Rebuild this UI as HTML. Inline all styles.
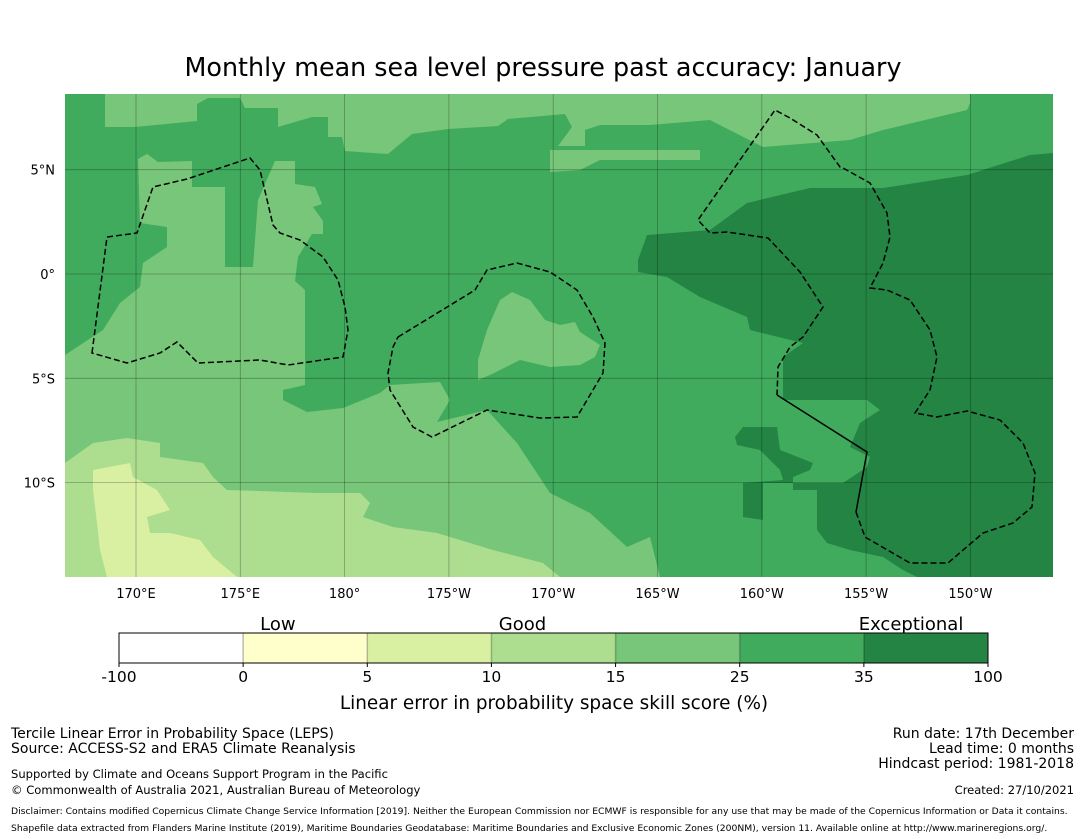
<!DOCTYPE html>
<html><head><meta charset="utf-8">
<style>
body{margin:0;background:#fff;}
svg{display:block;font-family:"DejaVu Sans","Liberation Sans",sans-serif;}
</style></head>
<body>
<svg id="fig" width="1085" height="839" viewBox="0 0 1085 839" xmlns="http://www.w3.org/2000/svg">
<rect width="1085" height="839" fill="#fff"/>
<text x="543" y="76" text-anchor="middle" font-size="25.4" fill="#000">Monthly mean sea level pressure past accuracy: January</text>
<defs><clipPath id="mapclip"><rect x="65" y="94" width="988" height="483"/></clipPath></defs>
<g id="map" clip-path="url(#mapclip)">
<rect x="65" y="94" width="988" height="483" fill="#41ab5d"/>
<g fill="#78c679">
<polygon points="105,94 970,94 970,103 967,110 883,130 850,140 763,147 710,120 650,125 600,125 585,130 585,146 558,146 572,127 565,114 508,119 498,126 448,129 412,134 388,154 345,151 342,137 328,137 328,117 312,117 278,127 278,108 245,108 240,98 208,98 197,104 197,121 135,127 105,127"/>
<polygon points="550,150 700,150 700,160 600,160 580,170 550,172"/>
<polygon points="65,355 103,330 120,303 140,287 143,263 167,247 167,227 140,223 138,159 147,154 158,162 192,161 192,187 225,187 225,267 253,267 258,200 275,161 295,161 295,184 315,187 322,204 313,207 323,221 323,234 312,234 298,257 295,281 305,290 305,385 283,390 283,400 307,412 343,408 380,393 390,385 440,382 450,400 437,422 487,410 517,443 550,493 590,513 627,547 650,537 660,577 65,577"/>
<polygon points="487,330 500,300 512,292 530,300 545,320 560,325 575,322 580,332 600,345 595,357 580,365 550,367 520,360 490,375 478,380 478,360"/>
</g>
<g fill="#addd8e">
<polygon points="65,463 93,443 127,438 160,443 160,457 203,463 213,477 227,490 317,493 360,493 370,503 363,517 393,527 437,533 493,550 543,563 560,577 65,577"/>
</g>
<g fill="#d9f0a3">
<polygon points="93,470 130,463 133,477 157,490 170,510 147,517 150,533 170,533 200,540 213,557 237,577 107,577 100,550 97,523 93,490"/>
</g>
<g fill="#238443">
<polygon points="638,272 638,260 647,235 710,230 747,203 810,188 883,188 967,175 1030,155 1053,153 1053,577 917,577 903,570 883,557 850,550 827,543 817,530 817,490 793,490 793,477 810,470 813,463 780,450 777,427 743,427 735,437 737,445 760,450 780,470 783,480 743,483 743,517 763,520 763,483 843,483 867,467 870,457 850,447 860,423 880,410 867,400 783,400 783,357 803,343 750,330 747,317 700,297 667,277"/>
</g>
</g>
<g id="grid"></g>
<g fill="none" stroke="#000" stroke-width="1.5">
<path stroke-dasharray="6,3" d="M92,353 L107,237 L137,233 L153,187 L187,179 L250,158 L260,170 L273,225 L280,233 L300,240 L323,257 L338,280 L345,307 L348,330 L343,357 L288,365 L260,360 L198,363 L177,342 L160,353 L127,363 Z"/>
<path stroke-dasharray="6,3" d="M398,337 L475,290 L487,270 L517,263 L550,272 L577,290 L593,317 L605,343 L603,373 L577,417 L540,418 L487,410 L432,437 L413,427 L390,390 L388,373 L393,347 Z"/>
<path stroke-dasharray="6,3" d="M856,512 L865,537 L910,563 L948,563 L983,533 L1013,523 L1032,507 L1035,473 L1023,443 L1000,420 L967,411 L937,417 L915,413 L930,390 L937,357 L930,330 L910,300 L887,290 L870,288 L883,263 L890,237 L887,213 L870,183 L843,168 L840,167 L817,135 L790,118 L775,110 L698,220 L710,233 L727,232 L768,238 L800,272 L823,307 L803,337 L790,347 L778,367 L777,395"/>
<path d="M777,395 L867,452 L856,512"/>
</g>
<g id="axes"></g>
<g id="cbar"></g>
<text x="554" y="709" text-anchor="middle" font-size="18.4">Linear error in probability space skill score (%)</text>
<g font-size="14">
<text x="11" y="738">Tercile Linear Error in Probability Space (LEPS)</text>
<text x="11" y="753">Source: ACCESS-S2 and ERA5 Climate Reanalysis</text>
<text x="11" y="778" font-size="11.55">Supported by Climate and Oceans Support Program in the Pacific</text>
<text x="11" y="794" font-size="11.55">© Commonwealth of Australia 2021, Australian Bureau of Meteorology</text>
<text x="11" y="814" font-size="9.22">Disclaimer: Contains modified Copernicus Climate Change Service Information [2019]. Neither the European Commission nor ECMWF is responsible for any use that may be made of the Copernicus Information or Data it contains.</text>
<text x="11" y="831" font-size="9.22">Shapefile data extracted from Flanders Marine Institute (2019), Maritime Boundaries Geodatabase: Maritime Boundaries and Exclusive Economic Zones (200NM), version 11. Available online at http://www.marineregions.org/.</text>
</g>
<g font-size="14" text-anchor="end">
<text x="1074" y="738">Run date: 17th December</text>
<text x="1074" y="753">Lead time: 0 months</text>
<text x="1074" y="768">Hindcast period: 1981-2018</text>
<text x="1074" y="794" font-size="11.5">Created: 27/10/2021</text>
</g>
</svg>
<script>
const NS='http://www.w3.org/2000/svg';
const cbColors=['#ffffff','#ffffcc','#d9f0a3','#addd8e','#78c679','#41ab5d','#238443'];
const cbTicks=['-100','0','5','10','15','25','35','100'];
const cbCategories=['Low','Good','Exceptional'];
const cbCategoryPos=[1.28,3.25,6.38];
const lonTicks=['170°E','175°E','180°','175°W','170°W','165°W','160°W','155°W','150°W'];
const lonValues=[170,175,180,185,190,195,200,205,210];
const latTicks=['5°N','0°','5°S','10°S'];
const latValues=[5,0,-5,-10];
const px=lon=>136+(lon-170)*20.86;
const py=lat=>274-lat*20.86;
const map={x0:65,y0:94,x1:1053,y1:577};
function mk(t,a,p){const e=document.createElementNS(NS,t);for(const k in a)e.setAttribute(k,a[k]);p.appendChild(e);return e;}
const grid=document.getElementById('grid');
const axes=document.getElementById('axes');
lonValues.forEach((v,i)=>{
  const l=mk('line',{x1:px(v),x2:px(v),y1:map.y0,y2:map.y1,stroke:'#000','stroke-opacity':0.3,'stroke-width':0.8},grid);
  
  
  const t=mk('text',{x:px(v),y:598,'text-anchor':'middle','font-size':13},axes);
  t.textContent=lonTicks[i];
  
  
});
latValues.forEach((v,i)=>{
  const l=mk('line',{x1:map.x0,x2:map.x1,y1:py(v),y2:py(v),stroke:'#000','stroke-opacity':0.3,'stroke-width':0.8},grid);
  
  
  const t=mk('text',{x:55,y:py(v)+5,'text-anchor':'end','font-size':13},axes);
  t.textContent=latTicks[i];
  
  
});
const cb=document.getElementById('cbar');
const cbx=119,cbw=869,cby=633,cbh=30,seg=cbw/cbColors.length;
cbColors.forEach((c,i)=>{
  const r=mk('rect',{x:cbx+i*seg,y:cby,width:seg,height:cbh,fill:c},cb);
  
  
  if(i>0){const l=mk('line',{x1:cbx+i*seg,x2:cbx+i*seg,y1:cby,y2:cby+cbh,stroke:'#000','stroke-opacity':0.25,'stroke-width':1.5},cb);
  
  }
});
const fr=mk('rect',{x:cbx,y:cby,width:cbw,height:cbh,fill:'none',stroke:'#000','stroke-width':1},cb);


cbTicks.forEach((s,i)=>{
  const x=cbx+i*seg;
  const tk=mk('line',{x1:x,x2:x,y1:cby+cbh,y2:cby+cbh+4,stroke:'#000'},cb);
  
  
  const t=mk('text',{x:x,y:682,'text-anchor':'middle','font-size':15.5},cb);
  t.textContent=s;
  
  
});
cbCategories.forEach((s,i)=>{
  const t=mk('text',{x:cbx+cbCategoryPos[i]*seg,y:630,'text-anchor':'middle','font-size':18},cb);
  t.textContent=s;
  
  
});
</script>
</body></html>
